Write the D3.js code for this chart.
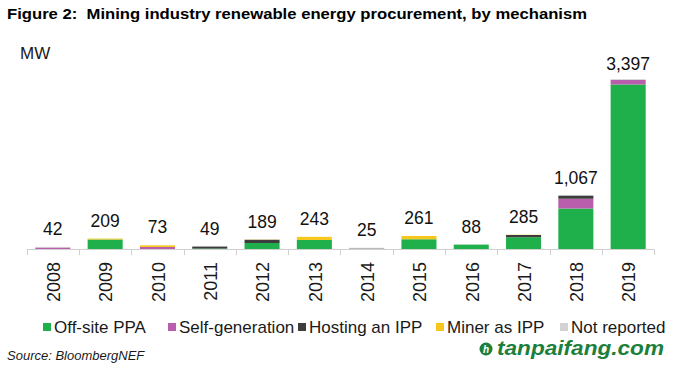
<!DOCTYPE html>
<html><head><meta charset="utf-8">
<script src="https://cdn.jsdelivr.net/npm/d3@7"></script>
<style>html,body{margin:0;padding:0;background:#fff;}svg{display:block;font-family:"Liberation Sans",Arial,sans-serif;}text{white-space:pre;}</style>
</head><body>
<svg id="c" width="676" height="369"></svg>
<script>
const years = ["2008","2009","2010","2011","2012","2013","2014","2015","2016","2017","2018","2019"];
const offsite  = [0, 190, 0, 9, 120, 180, 0, 195, 88, 235, 810, 3290];
const selfgen  = [30, 0, 40, 0, 0, 0, 0, 0, 0, 0, 195, 90];
const hosting  = [0, 0, 0, 40, 65, 0, 10, 0, 0, 45, 62, 0];
const miner    = [0, 19, 33, 0, 4, 63, 0, 66, 0, 5, 0, 0];
const notrep   = [12, 0, 0, 0, 0, 0, 15, 0, 0, 0, 0, 17];
const seriesNames = ["Off-site PPA","Self-generation","Hosting an IPP","Miner as IPP","Not reported"];
const seriesColors = ["#1fb04c","#b85eac","#3d3d3d","#f6c81e","#d3d3d3"];
const seriesVals = [offsite, selfgen, hosting, miner, notrep];

const svg = d3.select("#c");
const keys = ["s0","s1","s2","s3","s4"];
const rows = years.map((y,i)=>{const r={year:y}; keys.forEach((k,j)=>r[k]=seriesVals[j][i]); return r;});
const totals = years.map((y,i)=>seriesVals.reduce((a,s)=>a+s[i],0));

const x = d3.scaleBand().domain(years).range([26.7, 654.3]).paddingInner(0.33).paddingOuter(0.165);
const y = d3.scaleLinear().domain([0, 4000]).range([249, 49]);

const stack = d3.stack().keys(keys)(rows);
svg.append("g").selectAll("g").data(stack).join("g")
  .attr("fill",(d,i)=>seriesColors[i])
  .selectAll("rect").data(d=>d).join("rect")
  .attr("x",d=>x(d.data.year)).attr("width",x.bandwidth())
  .attr("y",d=>y(d[1])).attr("height",d=>Math.max(0,y(d[0])-y(d[1])));

// axis
const axis = svg.append("g");
axis.append("line").attr("x1",x.range()[0]).attr("x2",x.range()[1]).attr("y1",249.5).attr("y2",249.5).attr("stroke","#d0d0d0");
const step = x.step();
d3.range(years.length+1).forEach(i=>{
  const xx = Math.round(x.range()[0] + i*step)+0.5;
  axis.append("line").attr("x1",xx).attr("x2",xx).attr("y1",249.5).attr("y2",255).attr("stroke","#d0d0d0");
});
axis.selectAll("text.yr").data(years).join("text").attr("class","yr")
  .attr("transform",d=>`translate(${x(d)+x.bandwidth()/2+1},262) rotate(-90)`)
  .attr("text-anchor","end").attr("dy","0.35em")
  .attr("font-size",18).attr("fill","#1a1a1a").text(d=>d);

// value labels
const fmt = d3.format(",");
svg.selectAll("text.val").data(years).join("text").attr("class","val")
  .attr("x",d=>x(d)+x.bandwidth()/2)
  .attr("y",(d,i)=>Math.max(y(totals[i])-12, 70))
  .attr("text-anchor","middle").attr("font-size",17.5).attr("fill","#111")
  .text((d,i)=>fmt(totals[i]));

// title
svg.append("text").attr("x",7).attr("y",18.5).attr("font-size",15.5).attr("font-weight","bold").attr("fill","#000")
  .attr("textLength",580).attr("lengthAdjust","spacingAndGlyphs")
  .text("Figure 2:  Mining industry renewable energy procurement, by mechanism");
svg.append("text").attr("x",20).attr("y",59).attr("font-size",17).attr("fill","#1a1a1a").text("MW");

// legend
const legX = [43,168,298,436,560];
const leg = svg.append("g");
seriesNames.forEach((n,i)=>{
  leg.append("rect").attr("x",legX[i]).attr("y",323).attr("width",8).attr("height",8).attr("fill",seriesColors[i]);
  leg.append("text").attr("x",legX[i]+11).attr("y",332.5).attr("font-size",17).attr("fill","#1a1a1a").text(n);
});

// source
svg.append("text").attr("x",7).attr("y",360).attr("font-size",13).attr("font-style","italic").attr("fill","#1a1a1a").text("Source: BloombergNEF");

// watermark
const wm = svg.append("g");
wm.append("circle").attr("cx",486).attr("cy",349).attr("r",6.5).attr("fill","#1d7f3c");
wm.append("text").attr("x",486).attr("y",353).attr("text-anchor","middle").attr("font-size",10).attr("font-weight","bold").attr("font-style","italic").attr("fill","#fff").text("h");
wm.append("text").attr("x",497).attr("y",355).attr("font-size",20).attr("font-weight","bold").attr("font-style","italic").attr("fill","#1d7f3c")
  .attr("textLength",167).attr("lengthAdjust","spacingAndGlyphs").text("tanpaifang.com");
</script>
</body></html>
